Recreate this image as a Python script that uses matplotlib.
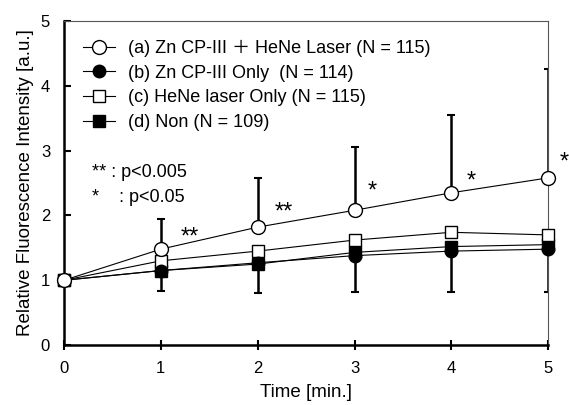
import numpy as np
import matplotlib.pyplot as plt

plt.rcParams['font.family'] = ['Liberation Sans', 'Noto Sans CJK JP', 'DejaVu Sans']

# thoi gian (phut)
time = [0, 1, 2, 3, 4, 5]

# gia tri trung binh cua 4 nhom
a_mean = [1.00, 1.48, 1.82, 2.08, 2.35, 2.58]
b_mean = [1.00, 1.15, 1.27, 1.38, 1.45, 1.48]
c_mean = [1.00, 1.30, 1.45, 1.62, 1.74, 1.70]
d_mean = [1.00, 1.15, 1.25, 1.43, 1.52, 1.55]

# thanh sai so: phia tren cua (a), phia duoi cua (d)
a_err_up = [0.0, 0.47, 0.76, 0.98, 1.20, 1.68]
d_err_down = [0.0, 0.32, 0.44, 0.61, 0.70, 0.73]

labels = ['(a) Zn CP-III \uff0b HeNe Laser (N = 115)',
          '(b) Zn CP-III Only  (N = 114)',
          '(c) HeNe laser Only (N = 115)',
          '(d) Non (N = 109)']

# dau sao y nghia thong ke
star_x = [1.30, 2.27, 3.18, 4.20, 5.16]
star_y = [1.66, 2.05, 2.37, 2.52, 2.82]
star_txt = ['**', '**', '*', '*', '*']

fig = plt.figure(figsize=(5.69, 4.05), dpi=100)
ax = fig.add_axes([0.1125, 0.148, 0.851, 0.800])

ax.errorbar(time, a_mean, yerr=[np.zeros(6), a_err_up], fmt='none',
            ecolor='black', elinewidth=1.8, capsize=3, capthick=1.5, zorder=2)
ax.errorbar(time, d_mean, yerr=[d_err_down, np.zeros(6)], fmt='none',
            ecolor='black', elinewidth=1.8, capsize=3, capthick=1.5, zorder=2)

ax.plot(time, d_mean, '-s', color='black', lw=0.8, ms=8.5,
        mfc='black', mec='black', label=labels[3], zorder=3, clip_on=False)
ax.plot(time, b_mean, '-o', color='black', lw=0.8, ms=9,
        mfc='black', mec='black', label=labels[1], zorder=4, clip_on=False)
ax.plot(time, c_mean, '-s', color='black', lw=0.8, ms=8.5,
        mfc='white', mec='black', label=labels[2], zorder=3, clip_on=False)
ax.plot(time, a_mean, '-o', color='black', lw=0.8, ms=10,
        mfc='white', mec='black', label=labels[0], zorder=5, clip_on=False)

for x, y, s in zip(star_x, star_y, star_txt):
    ax.text(x, y, s, fontsize=17, ha='center', va='center', clip_on=False)

ax.text(0.29, 2.67, '** : p<0.005', fontsize=13, va='center')
ax.text(0.29, 2.28, '*    : p<0.05', fontsize=13, va='center')

h, l = ax.get_legend_handles_labels()
order = [3, 1, 2, 0]
ax.legend([h[i] for i in order], [l[i] for i in order], loc='upper left',
          bbox_to_anchor=(0.0, 1.0), frameon=False, fontsize=13,
          handlelength=1.75, handletextpad=0.75, labelspacing=0.42,
          borderaxespad=0.75, borderpad=0.3)

ax.set_xlim(0, 5)
ax.set_ylim(0, 5)
ax.set_xticks(range(6))
ax.set_yticks(range(6))
ax.set_xlabel('Time [min.]', fontsize=13.5, labelpad=6)
ax.set_ylabel('Relative Fluorescence Intensity [a.u.]', fontsize=13.5, labelpad=5)

for s in ['left', 'bottom']:
    ax.spines[s].set_linewidth(1.8)
for s in ['top', 'right']:
    ax.spines[s].set_linewidth(0.8)
    ax.spines[s].set_color('#555555')
ax.tick_params(axis='y', direction='in', length=5, width=1.5, labelsize=12, pad=10)
ax.tick_params(axis='x', direction='inout', length=7, width=1.5, labelsize=12, pad=8)

plt.savefig('out.png', dpi=100)
